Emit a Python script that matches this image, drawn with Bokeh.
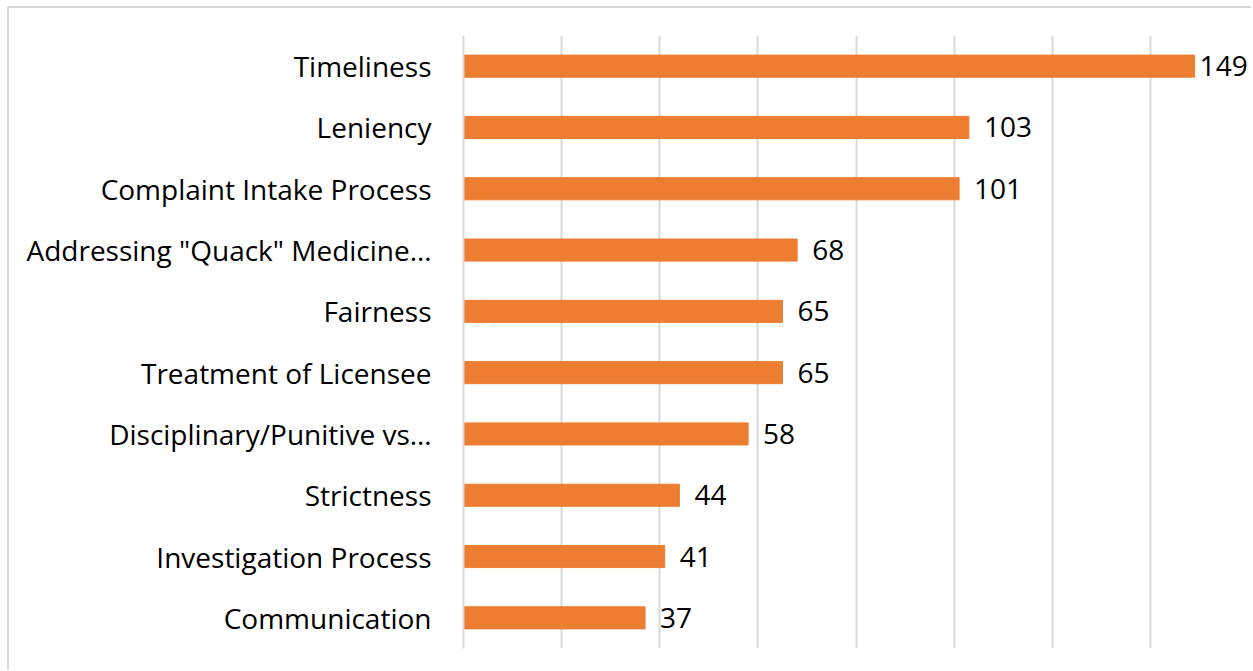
from bokeh.plotting import figure
from bokeh.models import FixedTicker, ColumnDataSource
from bokeh.embed import file_html
from bokeh.resources import INLINE
from bokeh.core.properties import value

categories = ["Timeliness", "Leniency", "Complaint Intake Process",
              "Addressing \"Quack\" Medicine…", "Fairness", "Treatment of Licensee",
              "Disciplinary/Punitive vs…", "Strictness", "Investigation Process",
              "Communication"]
counts = [149, 103, 101, 68, 65, 65, 58, 44, 41, 37]
grid_ticks = [0, 20, 40, 60, 80, 100, 120, 140]

FONT = "Open Sans"
FS = "28px"
# the largest label is pushed closer to its bar so it fits in the chart
offsets = [5 if v == max(counts) else 15 for v in counts]
src = ColumnDataSource(dict(cat=categories, val=counts, lbl=[str(v) for v in counts], off=offsets))

p = figure(width=1244, height=663, y_range=list(reversed(categories)), x_range=(0, 161),
           output_backend="svg", toolbar_location=None,
           min_border_left=454, min_border_right=0, min_border_top=27, min_border_bottom=23)
p.styles = {"margin-left": "7px", "margin-top": "6px",
            "border-left": "2px solid #d9d9d9", "border-top": "2px solid #d9d9d9"}
p.outline_line_color = None
p.hbar(y="cat", right="val", left=0, height=0.36, source=src, color="#ED7D31")
p.text(x="val", y="cat", text="lbl", source=src, x_offset="off", text_baseline="middle",
       text_font=value(FONT), text_font_size=FS, text_color="black")

p.xaxis.visible = False
p.xgrid.ticker = FixedTicker(ticks=grid_ticks)
p.xgrid.grid_line_color = "#d9d9d9"
p.xgrid.grid_line_width = 2
p.ygrid.grid_line_color = None
p.yaxis.axis_line_color = "#d9d9d9"
p.yaxis.axis_line_width = 2
p.yaxis.major_tick_line_color = None
p.yaxis.minor_tick_line_color = None
p.yaxis.major_label_standoff = 26
p.yaxis.major_label_text_font = FONT
p.yaxis.major_label_text_font_size = FS
p.yaxis.major_label_text_color = "black"

open("out.html", "w").write(file_html(p, INLINE))
